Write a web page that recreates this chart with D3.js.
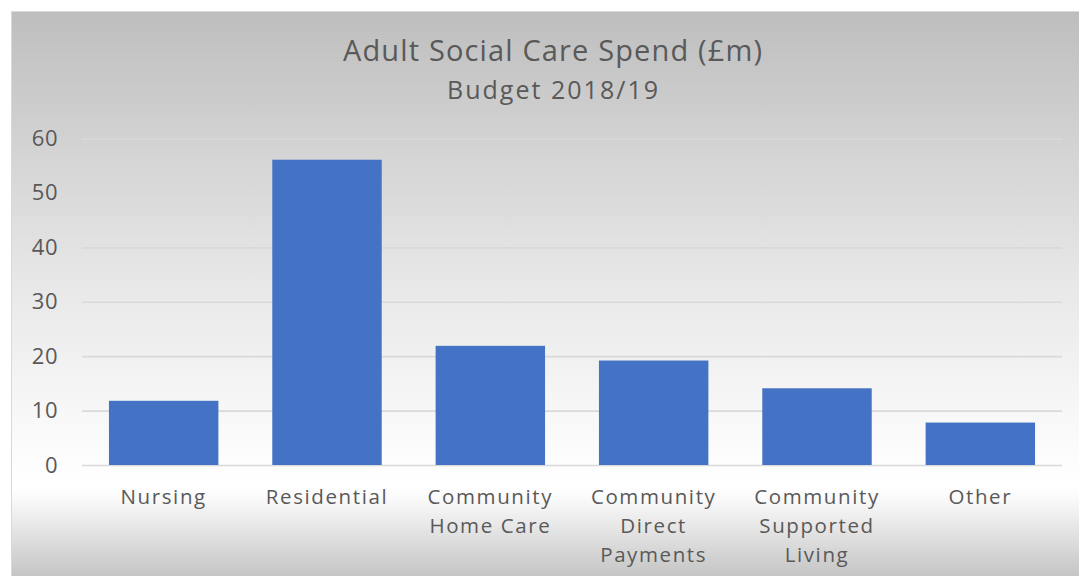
<!DOCTYPE html>
<html>
<head>
<meta charset="utf-8">
<script src="https://cdn.jsdelivr.net/npm/d3@7"></script>
<style>
  html, body { margin: 0; padding: 0; background: #ffffff; }
  svg { display: block; }
  text { font-family: "Open Sans", "DejaVu Sans", sans-serif; fill: #595959; }
</style>
</head>
<body>
<svg id="chart" width="1079" height="576"></svg>
<script>
// Adult social care spend by category, budget 2018/19 (£m)
const categories = [
  ["Nursing"],
  ["Residential"],
  ["Community", "Home Care"],
  ["Community", "Direct", "Payments"],
  ["Community", "Supported", "Living"],
  ["Other"]
];
const spend = [11.8, 56.1, 21.9, 19.2, 14.1, 7.8];
const yTicks = [0, 10, 20, 30, 40, 50, 60];
const titleText = "Adult Social Care Spend (£m)";
const subtitleText = "Budget 2018/19";

const svg = d3.select("#chart");

// Background gradient of the chart area
const defs = svg.append("defs");
const grad = defs.append("linearGradient")
  .attr("id", "bg").attr("gradientUnits", "userSpaceOnUse")
  .attr("x1", 0).attr("y1", 11).attr("x2", 0).attr("y2", 576);
[[0, "#bebebe"], [0.23, "#d2d2d2"], [0.5, "#e9e9e9"], [0.72, "#f8f8f8"],
 [0.84, "#ffffff"], [0.86, "#fbfbfb"], [0.93, "#e0e0e0"], [1, "#c5c5c5"]]
  .forEach(([o, c]) => grad.append("stop").attr("offset", o).attr("stop-color", c));

svg.append("rect")
  .attr("x", 11.5).attr("y", 11.5).attr("width", 1100).attr("height", 600)
  .attr("fill", "url(#bg)").attr("stroke", "#d9d9d9").attr("stroke-width", 1);

const plot = { left: 82, right: 1062, top: 138.5, bottom: 465 };

const x = d3.scaleBand()
  .domain(d3.range(categories.length))
  .range([plot.left, plot.right])
  .paddingInner(0.33)
  .paddingOuter(0.165);

const y = d3.scaleLinear()
  .domain([0, 60])
  .range([plot.bottom, plot.top]);

// Gridlines and tick labels via a left axis
const yAxis = d3.axisLeft(y)
  .tickValues(yTicks)
  .tickSize(-(plot.right - plot.left))
  .tickPadding(24);

const gy = svg.append("g")
  .attr("transform", `translate(${plot.left},0)`)
  .call(yAxis);
gy.select(".domain").remove();
gy.selectAll(".tick line")
  .attr("stroke", "#d9d9d9").attr("stroke-width", 1.6);
gy.selectAll(".tick text")
  .attr("font-size", 22).attr("fill", "#595959")
  .attr("letter-spacing", 0.5)
  .style("font-family", "'Open Sans', sans-serif");

// Bars
svg.append("g").selectAll("rect")
  .data(spend)
  .join("rect")
  .attr("x", (d, i) => x(i))
  .attr("y", d => y(d))
  .attr("width", x.bandwidth())
  .attr("height", d => y(0) - y(d))
  .attr("fill", "#4472c4");

// Category labels (multi-line)
const xAxis = d3.axisBottom(x).tickSize(0).tickFormat("");
const gx = svg.append("g")
  .attr("transform", `translate(0,${plot.bottom})`)
  .call(xAxis);
gx.select(".domain").remove();
gx.selectAll(".tick").each(function(i) {
  const t = d3.select(this).append("text")
    .attr("text-anchor", "middle")
    .attr("font-size", 20.5)
    .attr("letter-spacing", 1.6)
    .attr("fill", "#595959");
  categories[i].forEach((line, k) => {
    t.append("tspan").attr("x", 0).attr("y", 39 + k * 29).text(line);
  });
});

// Title block
svg.append("text")
  .attr("x", 552.5).attr("y", 61)
  .attr("text-anchor", "middle")
  .attr("font-size", 29)
  .attr("textLength", 419)
  .attr("lengthAdjust", "spacing")
  .text(titleText);
svg.append("text")
  .attr("x", 552.5).attr("y", 99)
  .attr("text-anchor", "middle")
  .attr("font-size", 25)
  .attr("textLength", 211)
  .attr("lengthAdjust", "spacing")
  .text(subtitleText);
</script>
</body>
</html>
